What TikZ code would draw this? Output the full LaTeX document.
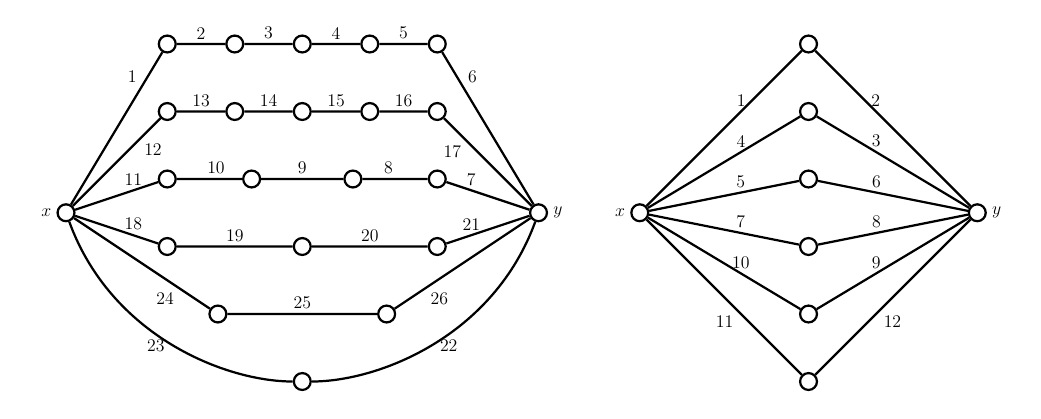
\documentclass[tikz,border=0pt]{standalone}
\usetikzlibrary{positioning}
\tikzset{
  vert/.style={circle, draw, line width=1.5pt, fill=white, minimum size=4mm, inner sep=0pt},
  link/.style={line width=1.5pt},
  wt/.style={font=\large, inner sep=2.5pt},
  end/.style={font=\large},
}

\begin{document}
\begin{tikzpicture}[x=1.6cm, y=1.6cm]
  \useasboundingbox (-0.978,-3.041) rectangle (14.444,3.152);
  % left graph: seven x--y paths
  \node[vert, label={[end]left:$x$}] (x) at (0,0) {};
  \node[vert, label={[end]right:$y$}] (y) at (7,0) {};
  \foreach \i/\u in {1/1.5,2/2.5,3/3.5,4/4.5,5/5.5} {
    \node[vert] (a\i) at (\u,2.5) {};
    \node[vert] (b\i) at (\u,1.5) {};
  }
  \foreach \i/\u in {1/1.5,2/2.75,3/4.25,4/5.5} \node[vert] (c\i) at (\u,0.5) {};
  \foreach \i/\u in {1/1.5,2/3.5,3/5.5} \node[vert] (d\i) at (\u,-0.5) {};
  \node[vert] (e1) at (2.25,-1.5) {};
  \node[vert] (e2) at (4.75,-1.5) {};
  \node[vert] (f) at (3.5,-2.5) {};

  \draw[link] (x) -- node[wt, above left, pos=0.77] {1} (a1)
    -- node[wt, above] {2} (a2) -- node[wt, above] {3} (a3)
    -- node[wt, above] {4} (a4) -- node[wt, above] {5} (a5)
    -- node[wt, above right, pos=0.23] {6} (y);
  \draw[link] (x) -- node[wt, below right, pos=0.76] {12} (b1)
    -- node[wt, above] {13} (b2) -- node[wt, above] {14} (b3)
    -- node[wt, above] {15} (b4) -- node[wt, above] {16} (b5)
    -- node[wt, below left, pos=0.25] {17} (y);
  \draw[link] (x) -- node[wt, above, pos=0.7] {11} (c1)
    -- node[wt, above, pos=0.6] {10} (c2) -- node[wt, above] {9} (c3)
    -- node[wt, above, pos=0.4] {8} (c4) -- node[wt, above, pos=0.3] {7} (y);
  \draw[link] (x) -- node[wt, above, pos=0.7] {18} (d1)
    -- node[wt, above] {19} (d2) -- node[wt, above] {20} (d3)
    -- node[wt, above, pos=0.3] {21} (y);
  \draw[link] (x) -- node[wt, below left, pos=0.77] {24} (e1)
    -- node[wt, above] {25} (e2) -- node[wt, below right, pos=0.23] {26} (y);
  \draw[link] (x) to[out=-70, in=180, out distance=2.88cm, in distance=1.6cm]
      node[wt, left=3pt, pos=0.51] {23} (f)
    to[out=0, in=-110, out distance=1.6cm, in distance=2.88cm]
      node[wt, right=3pt, pos=0.49] {22} (y);

  % right graph: six paths of length two
  \node[vert, label={[end]left:$x$}] (x2) at (8.5,0) {};
  \node[vert, label={[end]right:$y$}] (y2) at (13.5,0) {};
  \foreach \i/\v in {1/2.5,2/1.5,3/0.5,4/-0.5,5/-1.5,6/-2.5} \node[vert] (m\i) at (11,\v) {};
  \foreach \i/\p/\q in {1/1/2,2/4/3,3/5/6,4/7/8,5/10/9}
    \draw[link] (x2) -- node[wt, above, pos=0.61] {\p} (m\i)
      -- node[wt, above, pos=0.39] {\q} (y2);
  \draw[link] (x2) -- node[wt, below left, pos=0.59] {11} (m6)
    -- node[wt, below right, pos=0.41] {12} (y2);
\end{tikzpicture}
\end{document}
